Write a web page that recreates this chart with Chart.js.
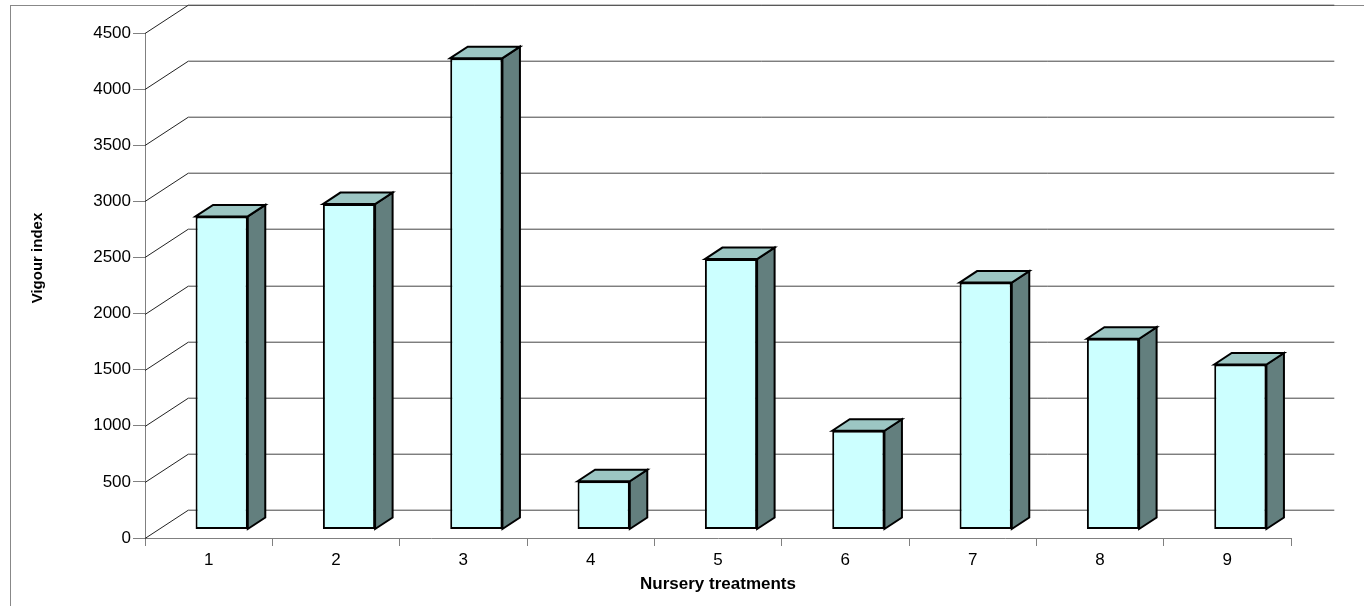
<!DOCTYPE html>
<html>
<head>
<meta charset="utf-8">
<script src="https://cdn.jsdelivr.net/npm/chart.js@4/dist/chart.umd.min.js"></script>
<style>
  html, body { margin: 0; padding: 0; background: #fff; }
  canvas { display: block; }
</style>
</head>
<body>
<canvas id="vigour" width="1364" height="606"></canvas>
<script>
(() => {
  const treatments  = ['1', '2', '3', '4', '5', '6', '7', '8', '9'];
  const vigourIndex = [2790, 2900, 4200, 430, 2410, 880, 2200, 1700, 1470];
  const yMin = 0, yMax = 4500, yStep = 500;
  const xTitle = 'Nursery treatments';
  const yTitle = 'Vigour index';

  // fake 3D: wall depth, bar shift off the front plane, bar depth
  const WALL = { dx: 43.3, dy: 28.3 };
  const SHIFT = { dx: 13, dy: 8.5 };
  const DEPTH = { dx: 17.5, dy: 11.5 };
  const FRONT = '#CCFFFF', TOP = '#9CC6C3', SIDE = '#637F7E';
  const FONT = 'Liberation Sans, Arial, sans-serif';

  function poly(ctx, pts, fill) {
    ctx.beginPath();
    ctx.moveTo(pts[0][0], pts[0][1]);
    for (let i = 1; i < pts.length; i++) ctx.lineTo(pts[i][0], pts[i][1]);
    ctx.closePath();
    ctx.fillStyle = fill;
    ctx.fill();
    ctx.stroke();
  }

  const depthPlugin = {
    id: 'depth',
    beforeDraw(chart) {
      const ctx = chart.ctx;
      ctx.save();
      ctx.fillStyle = '#fff';
      ctx.fillRect(0, 0, chart.width, chart.height);
      ctx.strokeStyle = '#888';
      ctx.lineWidth = 1;
      ctx.strokeRect(10.5, 5.5, 1400, 700);
      ctx.restore();
    },
    beforeDatasetsDraw(chart) {
      const { ctx, chartArea: a } = chart;
      const ys = chart.scales.y;
      ctx.save();
      ctx.lineWidth = 1;
      for (let v = yMin; v <= yMax; v += yStep) {
        const y = Math.round(ys.getPixelForValue(v)) + 0.5;
        ctx.strokeStyle = '#222';
        ctx.beginPath();
        ctx.moveTo(a.left, y);
        ctx.lineTo(a.left + WALL.dx, y - WALL.dy);
        ctx.stroke();
        ctx.strokeStyle = '#444';
        ctx.beginPath();
        ctx.moveTo(a.left + WALL.dx, y - WALL.dy);
        ctx.lineTo(a.right + WALL.dx, y - WALL.dy);
        ctx.stroke();
      }

      // top and side faces of each bar
      ctx.strokeStyle = '#000';
      ctx.lineWidth = 2;
      chart.getDatasetMeta(0).data.forEach((bar) => {
        const p = bar.getProps(['x', 'y', 'base', 'width'], true);
        const xl = p.x - p.width / 2 + SHIFT.dx;
        const xr = p.x + p.width / 2 + SHIFT.dx;
        const yt = p.y - SHIFT.dy;
        const yb = p.base - SHIFT.dy;
        poly(ctx, [[xr, yt], [xr + DEPTH.dx, yt - DEPTH.dy],
                   [xr + DEPTH.dx, yb - DEPTH.dy], [xr, yb]], SIDE);
        poly(ctx, [[xl, yt], [xl + DEPTH.dx, yt - DEPTH.dy],
                   [xr + DEPTH.dx, yt - DEPTH.dy], [xr, yt]], TOP);
      });

      // front faces are drawn by Chart.js, moved back into the depth
      ctx.translate(SHIFT.dx, -SHIFT.dy);
    },
    afterDatasetsDraw(chart) {
      chart.ctx.restore();
    },
    afterDraw(chart) {
      // y title sits a little above the middle of the axis
      const ctx = chart.ctx;
      ctx.save();
      ctx.translate(38, 258);
      ctx.rotate(-Math.PI / 2);
      ctx.font = `bold 15px ${FONT}`;
      ctx.fillStyle = '#000';
      ctx.textAlign = 'center';
      ctx.textBaseline = 'middle';
      ctx.fillText(yTitle, 0, 0);
      ctx.restore();
    },
  };

  new Chart(document.getElementById('vigour').getContext('2d'), {
    type: 'bar',
    data: {
      labels: treatments,
      datasets: [{
        data: vigourIndex,
        backgroundColor: FRONT,
        borderColor: '#000',
        borderWidth: 2,
        borderSkipped: false,
        barPercentage: 0.41,
        categoryPercentage: 1,
      }],
    },
    options: {
      responsive: false,
      animation: false,
      devicePixelRatio: 1,
      layout: { padding: { top: 33, right: 73, left: 0, bottom: 0 } },
      plugins: { legend: { display: false }, tooltip: { enabled: false } },
      scales: {
        x: {
          afterFit: (s) => { s.height = 68; },
          grid: { offset: true, drawOnChartArea: false, tickLength: 8, color: '#808080' },
          border: { color: '#808080' },
          ticks: { color: '#000', padding: 4, font: { family: FONT, size: 17 } },
          title: {
            display: true, text: xTitle, color: '#000',
            font: { family: FONT, size: 17, weight: 'bold' },
            padding: { top: 11, bottom: 11 },
          },
        },
        y: {
          min: yMin, max: yMax,
          afterFit: (s) => { s.width = 145; },
          grid: { drawOnChartArea: false, tickLength: 12, color: '#808080' },
          border: { color: '#808080' },
          ticks: {
            stepSize: yStep, color: '#000', padding: 2,
            font: { family: FONT, size: 17 },
            callback: (v) => String(v),
          },
        },
      },
    },
    plugins: [depthPlugin],
  });
})();
</script>
</body>
</html>
